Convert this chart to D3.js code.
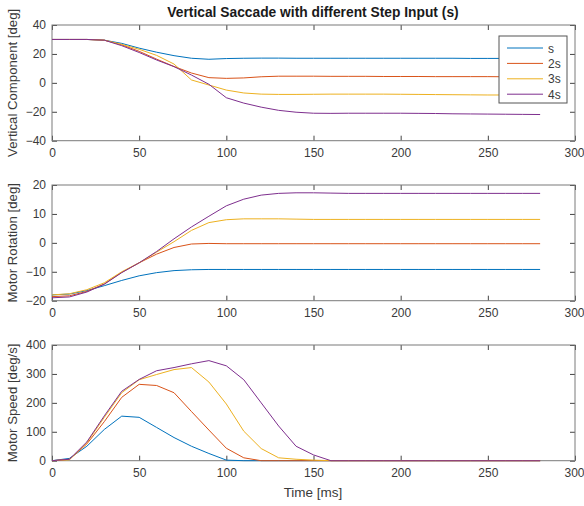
<!DOCTYPE html>
<html>
<head>
<meta charset="utf-8">
<script src="https://d3js.org/d3.v7.min.js"></script>
<style>
  body { margin: 0; background: #fff; }
  text { font-family: "Liberation Sans", Arial, sans-serif; }
</style>
</head>
<body>
<svg id="chart" width="584" height="506"></svg>
<script>
// time axis (ms)
const time = [0,10,20,30,40,50,60,70,80,90,100,110,120,130,140,150,160,170,180,190,200,210,220,230,240,250,260,270,280];

const seriesNames = ["s", "2s", "3s", "4s"];
const colors = ["#0072BD", "#D95319", "#EDB120", "#7E2F8E"];

// vertical component [deg]
const vertS  = [30,30,30,29.5,27.3,24,21.2,18.8,17,16.3,16.8,17,17.1,17.1,17,17,17,17,17,17,17,17,17,17,16.9,16.9,16.9,16.9,16.9];
const vert2s = [30,30,30,29.5,26.3,21.8,16.4,11.3,6.8,3.6,3.1,3.4,4.2,4.6,4.6,4.6,4.5,4.5,4.5,4.4,4.4,4.4,4.3,4.3,4.3,4.3,4.2,4.2,4.2];
const vert3s = [30,30,30,29.5,26.6,23.2,19,13,2,-1.5,-5,-7,-7.8,-8,-8,-7.9,-7.8,-7.8,-7.8,-7.8,-7.9,-8,-8.1,-8.2,-8.3,-8.4,-8.4,-8.5,-8.5];
const vert4s = [30,30,30,29.5,25.7,21,15.8,11.2,5.4,-1,-10.3,-14,-16.8,-19,-20.3,-21,-21.1,-21,-21,-21,-21,-21.1,-21.2,-21.4,-21.5,-21.6,-21.7,-21.8,-21.9];

// motor rotation [deg]
const rotS  = [-18,-17.7,-16.5,-14.8,-13,-11.4,-10.3,-9.6,-9.3,-9.2,-9.2,-9.2,-9.2,-9.2,-9.2,-9.2,-9.2,-9.2,-9.2,-9.2,-9.2,-9.2,-9.2,-9.2,-9.2,-9.2,-9.2,-9.2,-9.2];
const rot2s = [-18.6,-18.3,-16.8,-14.2,-10.2,-6.9,-3.9,-1.6,-0.4,-0.2,-0.3,-0.3,-0.3,-0.3,-0.3,-0.3,-0.3,-0.3,-0.3,-0.3,-0.3,-0.3,-0.3,-0.3,-0.3,-0.3,-0.3,-0.3,-0.3];
const rot3s = [-18,-17.6,-16.2,-13.8,-10,-6.9,-3.2,0.4,4.3,7,8,8.3,8.3,8.3,8.2,8.1,8.1,8.1,8.1,8.1,8.1,8.1,8.1,8.1,8.1,8.1,8.1,8.1,8.1];
const rot4s = [-19,-18.7,-17,-14.3,-10.3,-6.9,-3,1.4,5.5,9.2,12.8,15.1,16.5,17.1,17.3,17.3,17.2,17.1,17.1,17.1,17.1,17.1,17.1,17.1,17.1,17.1,17.1,17.1,17.1];

// motor speed [deg/s]
const spdS  = [0,8,50,108,154,150,115,80,50,25,2,0,0,0,0,0,0,0,0,0,0,0,0,0,0,0,0,0,0];
const spd2s = [0,5,58,135,219,264,260,235,170,106,43,10,0,0,0,0,0,0,0,0,0,0,0,0,0,0,0,0,0];
const spd3s = [0,3,62,150,235,280,298,315,322,272,196,102,42,10,5,2,0,0,0,0,0,0,0,0,0,0,0,0,0];
const spd4s = [0,5,65,155,240,281,311,322,335,346,328,280,200,120,50,20,0,0,0,0,0,0,0,0,0,0,0,0,0];

const xTicks = [0,50,100,150,200,250,300];

const panels = [
  { top: 25,  label: "Vertical Component [deg]", domain: [-40, 40], ticks: [-40,-20,0,20,40], series: [vertS, vert2s, vert3s, vert4s], legend: true },
  { top: 185, label: "Motor Rotation [deg]", domain: [-20, 20], ticks: [-20,-10,0,10,20], series: [rotS, rot2s, rot3s, rot4s] },
  { top: 345, label: "Motor Speed [deg/s]", domain: [0, 400], ticks: [0,100,200,300,400], series: [spdS, spd2s, spd3s, spd4s] }
];

const left = 52, right = 575, ph = 115.7;
const axisCol = "#7a7a7a", textCol = "#3a3a3a";

const svg = d3.select("#chart");
const x = d3.scaleLinear().domain([0, 300]).range([left, right]);

svg.append("text")
  .attr("x", 313).attr("y", 17)
  .attr("text-anchor", "middle")
  .attr("font-size", 13.8).attr("font-weight", "bold")
  .attr("fill", "#1a1a1a")
  .text("Vertical Saccade with different Step Input (s)");

panels.forEach(p => {
  const y = d3.scaleLinear().domain(p.domain).range([p.top + ph, p.top]);
  const g = svg.append("g");

  // bottom & left axes with labels
  const xa = g.append("g").attr("transform", `translate(0,${p.top + ph})`)
    .call(d3.axisBottom(x).tickValues(xTicks).tickSize(-5).tickPadding(8));
  const ya = g.append("g").attr("transform", `translate(${left},0)`)
    .call(d3.axisLeft(y).tickValues(p.ticks).tickSize(-5).tickPadding(6));
  // top & right ticks only
  const xt = g.append("g").attr("transform", `translate(0,${p.top})`)
    .call(d3.axisTop(x).tickValues(xTicks).tickSize(-5).tickFormat(""));
  const yr = g.append("g").attr("transform", `translate(${right},0)`)
    .call(d3.axisRight(y).tickValues(p.ticks).tickSize(-5).tickFormat(""));

  [xa, ya, xt, yr].forEach(a => {
    a.select(".domain").remove();
    a.selectAll("line").attr("stroke", "#444");
    a.selectAll("text").attr("fill", textCol).attr("font-size", 12)
      .style("font-family", "'Liberation Sans', Arial, sans-serif");
  });
  // keep the last x label inside the window, as in the reference
  xa.selectAll(".tick").filter(d => d === 300).select("text").attr("dx", -1);

  g.append("rect")
    .attr("x", left).attr("y", p.top)
    .attr("width", right - left).attr("height", ph)
    .attr("fill", "none").attr("stroke", axisCol).attr("stroke-width", 1);

  const line = d3.line().x((d, i) => x(time[i])).y(d => y(d));
  p.series.forEach((s, k) => {
    g.append("path").datum(s)
      .attr("d", line)
      .attr("fill", "none")
      .attr("stroke", colors[k])
      .attr("stroke-width", 1);
  });

  g.append("text")
    .attr("transform", `translate(17,${p.top + ph / 2}) rotate(-90)`)
    .attr("text-anchor", "middle")
    .attr("font-size", 13.2).attr("fill", textCol)
    .text(p.label);

  if (p.legend) {
    const lg = g.append("g");
    lg.append("rect")
      .attr("x", 499).attr("y", 36).attr("width", 68).attr("height", 67)
      .attr("fill", "#fff").attr("stroke", "#555").attr("stroke-width", 1);
    seriesNames.forEach((n, k) => {
      const yy = 48 + k * 15.4;
      lg.append("line")
        .attr("x1", 507).attr("x2", 543).attr("y1", yy).attr("y2", yy)
        .attr("stroke", colors[k]).attr("stroke-width", 1);
      lg.append("text")
        .attr("x", 548).attr("y", yy + 4.5)
        .attr("font-size", 12).attr("fill", textCol)
        .text(n);
    });
  }
});

svg.append("text")
  .attr("x", 313).attr("y", 497)
  .attr("text-anchor", "middle")
  .attr("font-size", 13.5).attr("fill", textCol)
  .text("Time [ms]");
</script>
</body>
</html>
